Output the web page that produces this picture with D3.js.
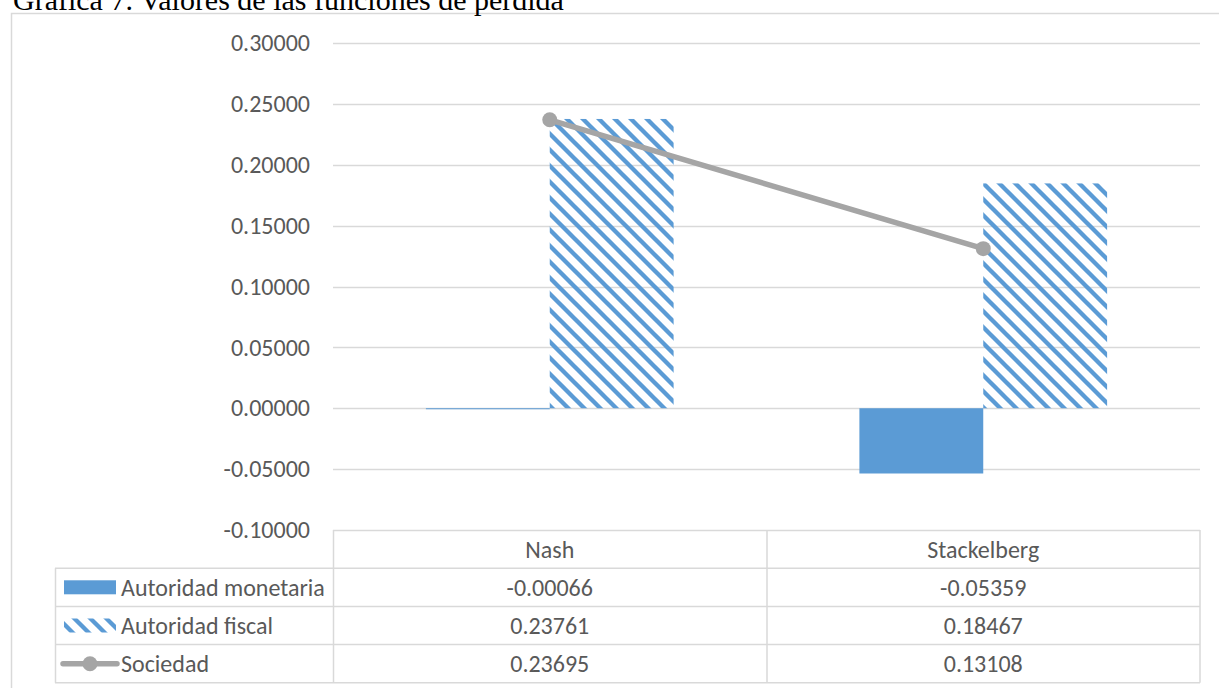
<!DOCTYPE html>
<html>
<head>
<meta charset="utf-8">
<script src="https://cdn.jsdelivr.net/npm/d3@7/dist/d3.min.js"></script>
<style>
  html, body { margin: 0; padding: 0; background: #fff; overflow: hidden; }
  svg { display: block; }
</style>
</head>
<body>
<svg id="chart" width="1219" height="688"></svg>
<script>
// Loss-function values by equilibrium type
const categories = ["Nash", "Stackelberg"];
const seriesNames = ["Autoridad monetaria", "Autoridad fiscal", "Sociedad"];
const monetaria = [-0.00066, -0.05359];
const fiscal = [0.23761, 0.18467];
const sociedad = [0.23695, 0.13108];
const tableLabels = [
  ["-0.00066", "-0.05359"],
  ["0.23761", "0.18467"],
  ["0.23695", "0.13108"]
];
const yTicks = [-0.10, -0.05, 0.00, 0.05, 0.10, 0.15, 0.20, 0.25, 0.30];
const titleText = "Gráfica 7. Valores de las funciones de pérdida";

const blue = "#5B9BD5";
const gray = "#A5A5A5";
const gridColor = "#D9D9D9";
const textColor = "#595959";
const font = "Carlito, Calibri, 'Open Sans', sans-serif";
const fontSize = 24;

const svg = d3.select("#chart");

// plot area
const plot = { left: 333, right: 1200, top: 43, bottom: 530 };
const tableLeft = 55;
const rowH = 38.2;

const y = d3.scaleLinear().domain([-0.10, 0.30]).range([plot.bottom, plot.top]);
const x = d3.scaleBand().domain(categories).range([plot.left, plot.right]).paddingInner(0).paddingOuter(0);
const xs = d3.scaleBand().domain(["m", "f"]).range([0, x.bandwidth()]).paddingInner(0).paddingOuter(0.75);

// hatch pattern for the fiscal series
const defs = svg.append("defs");
const pat = defs.append("pattern")
  .attr("id", "hatch")
  .attr("patternUnits", "userSpaceOnUse")
  .attr("width", 16).attr("height", 16);
pat.append("path")
  .attr("d", "M-4,-4 L20,20 M-4,12 L4,20 M12,-4 L20,4")
  .attr("stroke", blue).attr("stroke-width", 4.3).attr("fill", "none");

// outer chart frame
svg.append("rect")
  .attr("x", 11.5).attr("y", 13.5).attr("width", 1240).attr("height", 700)
  .attr("fill", "none").attr("stroke", gridColor).attr("stroke-width", 1.5);

// title
svg.append("text")
  .attr("x", 13).attr("y", 10)
  .attr("font-family", "'Liberation Serif', 'Times New Roman', serif")
  .attr("font-size", 30)
  .attr("fill", "#000")
  .text(titleText);

// gridlines
svg.append("g").selectAll("line")
  .data(yTicks.filter(t => t > -0.10))
  .join("line")
  .attr("x1", plot.left).attr("x2", plot.right)
  .attr("y1", d => Math.round(y(d)) + 0.5).attr("y2", d => Math.round(y(d)) + 0.5)
  .attr("stroke", gridColor).attr("stroke-width", 1.5);

// y axis labels (plain hyphen for negatives)
const fmt = d3.format(".5f");
const yAxis = d3.axisLeft(y).tickValues(yTicks).tickSize(0).tickPadding(0)
  .tickFormat(d => fmt(d).replace("\u2212", "-"));
const yg = svg.append("g").attr("transform", `translate(${310},0)`).call(yAxis);
yg.select(".domain").remove();
yg.selectAll("text")
  .attr("font-family", font).attr("font-size", fontSize).attr("fill", textColor);

// bars: monetary authority (solid)
svg.append("g").selectAll("rect")
  .data(categories.map((c, i) => ({ c, v: monetaria[i] })))
  .join("rect")
  .attr("x", d => x(d.c) + xs("m"))
  .attr("width", xs.bandwidth())
  .attr("y", d => y(Math.max(0, d.v)))
  .attr("height", d => Math.max(1, Math.abs(y(d.v) - y(0))))
  .attr("fill", blue);

// bars: fiscal authority (hatched)
svg.append("g").selectAll("rect")
  .data(categories.map((c, i) => ({ c, v: fiscal[i] })))
  .join("rect")
  .attr("x", d => x(d.c) + xs("f"))
  .attr("width", xs.bandwidth())
  .attr("y", d => y(Math.max(0, d.v)))
  .attr("height", d => Math.abs(y(d.v) - y(0)))
  .attr("fill", "url(#hatch)");

// society line with markers
const pts = categories.map((c, i) => ({ c, v: sociedad[i] }));
const line = d3.line().x(d => x(d.c) + x.bandwidth() / 2).y(d => y(d.v));
svg.append("path").datum(pts)
  .attr("d", line).attr("fill", "none")
  .attr("stroke", gray).attr("stroke-width", 5.5).attr("stroke-linecap", "round");
svg.append("g").selectAll("circle").data(pts).join("circle")
  .attr("cx", d => x(d.c) + x.bandwidth() / 2)
  .attr("cy", d => y(d.v))
  .attr("r", 7.5).attr("fill", gray);

// data table
const tbl = svg.append("g").attr("stroke", gridColor).attr("stroke-width", 1.5).attr("fill", "none");
// header row
tbl.append("line").attr("x1", plot.left).attr("x2", plot.right).attr("y1", plot.bottom + 0.5).attr("y2", plot.bottom + 0.5);
// row lines
for (let r = 1; r <= 4; r++) {
  const yy = plot.bottom + r * rowH;
  tbl.append("line").attr("x1", tableLeft).attr("x2", plot.right).attr("y1", yy).attr("y2", yy);
}
// vertical lines
tbl.append("line").attr("x1", tableLeft + 0.5).attr("x2", tableLeft + 0.5)
  .attr("y1", plot.bottom + rowH).attr("y2", plot.bottom + 4 * rowH);
categories.forEach(c => {
  tbl.append("line").attr("x1", x(c) + 0.5).attr("x2", x(c) + 0.5)
    .attr("y1", plot.bottom).attr("y2", plot.bottom + 4 * rowH);
});
tbl.append("line").attr("x1", plot.right).attr("x2", plot.right)
  .attr("y1", plot.bottom).attr("y2", plot.bottom + 4 * rowH);

// header category names
svg.append("g").selectAll("text").data(categories).join("text")
  .attr("x", d => x(d) + x.bandwidth() / 2)
  .attr("y", plot.bottom + rowH / 2)
  .attr("dy", "0.35em")
  .attr("text-anchor", "middle")
  .attr("font-family", font).attr("font-size", fontSize).attr("fill", textColor)
  .text(d => d);

// value cells
tableLabels.forEach((row, r) => {
  svg.append("g").selectAll("text").data(row).join("text")
    .attr("x", (d, i) => x(categories[i]) + x.bandwidth() / 2)
    .attr("y", plot.bottom + (r + 1.5) * rowH)
    .attr("dy", "0.35em")
    .attr("text-anchor", "middle")
    .attr("font-family", font).attr("font-size", fontSize).attr("fill", textColor)
    .text(d => d);
});

// legend keys and series names
seriesNames.forEach((name, r) => {
  const cy = plot.bottom + (r + 1.5) * rowH;
  const g = svg.append("g");
  if (r === 0) {
    g.append("rect").attr("x", 64).attr("y", cy - 7).attr("width", 52).attr("height", 14).attr("fill", blue);
  } else if (r === 1) {
    g.append("rect").attr("x", 64).attr("y", cy - 7).attr("width", 52).attr("height", 14).attr("fill", "url(#hatch)");
  } else {
    g.append("line").attr("x1", 63).attr("x2", 117).attr("y1", cy).attr("y2", cy)
      .attr("stroke", gray).attr("stroke-width", 5.5).attr("stroke-linecap", "round");
    g.append("circle").attr("cx", 90).attr("cy", cy).attr("r", 7.5).attr("fill", gray);
  }
  g.append("text")
    .attr("x", 121).attr("y", cy).attr("dy", "0.35em")
    .attr("font-family", font).attr("font-size", fontSize).attr("fill", textColor)
    .text(name);
});
</script>
</body>
</html>
